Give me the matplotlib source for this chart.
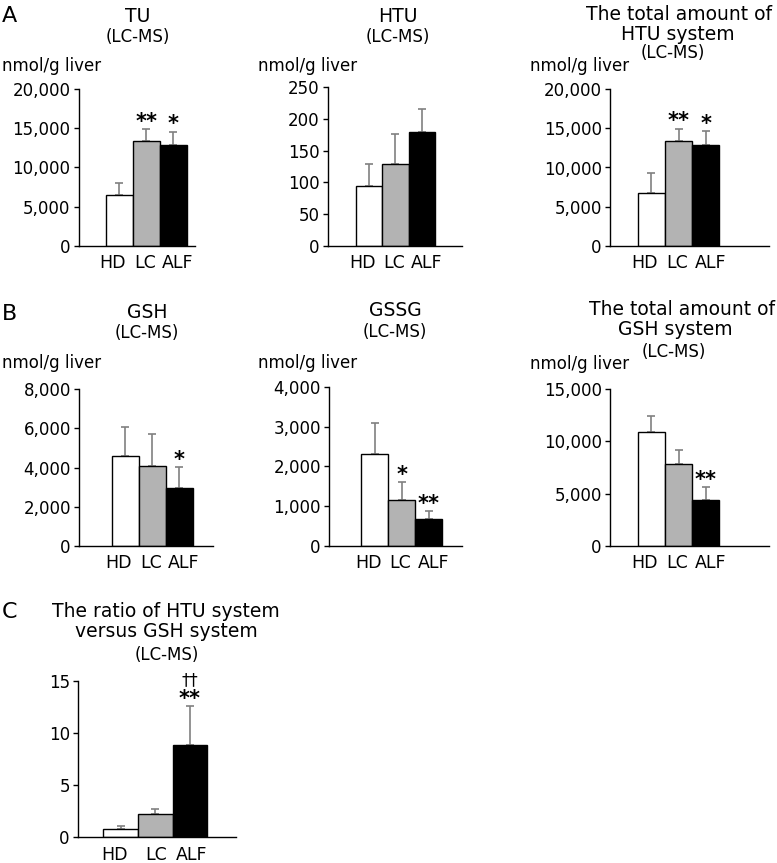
import matplotlib
matplotlib.use("Agg")
import matplotlib.pyplot as plt
from matplotlib.ticker import FuncFormatter

groups = ["HD", "LC", "ALF"]

# values (mean, upper SD)
tu_mean = [6500, 13300, 12800]
tu_sd = [1550, 1600, 1750]
tu_sig = ["", "**", "*"]

htu_mean = [95, 129, 180]
htu_sd = [34, 47, 35]
htu_sig = ["", "", ""]

htu_total_mean = [6700, 13400, 12900]
htu_total_sd = [2600, 1550, 1750]
htu_total_sig = ["", "**", "*"]

gsh_mean = [4600, 4080, 2970]
gsh_sd = [1490, 1620, 1060]
gsh_sig = ["", "", "*"]

gssg_mean = [2320, 1150, 680]
gssg_sd = [770, 450, 190]
gssg_sig = ["", "*", "**"]

gsh_total_mean = [10900, 7840, 4350]
gsh_total_sd = [1560, 1310, 1280]
gsh_total_sig = ["", "", "**"]

ratio_mean = [0.8, 2.24, 8.8]
ratio_sd = [0.26, 0.45, 3.77]
ratio_sig = ["", "", "**"]
ratio_sig2 = ["", "", "††"]

tu_ticks = [0, 5000, 10000, 15000, 20000]
htu_ticks = [0, 50, 100, 150, 200, 250]
gsh_ticks = [0, 2000, 4000, 6000, 8000]
gssg_ticks = [0, 1000, 2000, 3000, 4000]
gsh_total_ticks = [0, 5000, 10000, 15000]
ratio_ticks = [0, 5, 10, 15]

bar_colors = ["white", "#b3b3b3", "black"]
W, H = 777, 863
plt.rcParams["font.family"] = "DejaVu Sans"
fig = plt.figure(figsize=(W / 100, H / 100), dpi=100)

# horizontal nudges (pt) of the group labels; in the original they sit like one line of text
NUDGE_AB = [-4.7, -1.1, 3.2]
NUDGE_C = [-4.7, 0.4, 1.4]


def add_panel(box, xlim, yticks, mean, sd, sig, sig2=None, nudge=NUDGE_AB):
    x0, x1, ytop, ybot = box
    ax = fig.add_axes([x0 / W, 1 - ybot / H, (x1 - x0) / W, (ybot - ytop) / H])
    xs = list(range(len(groups)))
    ax.errorbar(xs, mean, yerr=[[0] * len(sd), sd], fmt="none", ecolor="#808080",
                elinewidth=1.2, capsize=2.6, capthick=1.2, zorder=1)
    ax.bar(xs, mean, width=1.0, color=bar_colors, edgecolor="black",
           linewidth=1.0, zorder=2)
    for i, s in enumerate(sig):
        if s:
            ax.annotate(s, xy=(i, mean[i] + sd[i]), xytext=(0, 1),
                        textcoords="offset points", ha="center", va="baseline",
                        fontsize=15, fontweight="bold")
    if sig2:
        for i, s in enumerate(sig2):
            if s:
                ax.annotate(s, xy=(i, mean[i] + sd[i]), xytext=(0, 15),
                            textcoords="offset points", ha="center", va="baseline",
                            fontsize=12)
    # group names under the bars
    for i, (g, dx) in enumerate(zip(groups, nudge)):
        ax.annotate(g, xy=(i, 0), xycoords=ax.get_xaxis_transform(),
                    xytext=(dx, -6.2), textcoords="offset points",
                    ha="center", va="top", fontsize=12.5)
    ax.set_xlim(*xlim)
    ax.set_ylim(yticks[0], yticks[-1])
    ax.set_yticks(yticks)
    ax.yaxis.set_major_formatter(FuncFormatter(lambda v, p: f"{v:,.0f}"))
    ax.set_xticks([])
    for side in ("top", "right"):
        ax.spines[side].set_visible(False)
    for side in ("left", "bottom"):
        ax.spines[side].set_linewidth(1.0)
    ax.tick_params(axis="y", length=3.6, width=1, pad=2.5, labelsize=12)
    return ax


def label(x, y, s, size=13.5, ha="center"):
    fig.text(x / W, 1 - y / H, s, ha=ha, va="baseline", fontsize=size)


# row A
add_panel((79, 195, 89, 245.7), (-1.5, 2.8), tu_ticks, tu_mean, tu_sd, tu_sig)
add_panel((328.3, 462, 87.3, 245.7), (-1.54, 3.52), htu_ticks, htu_mean, htu_sd, htu_sig)
add_panel((610.3, 769, 89.3, 245.7), (-1.51, 4.33), tu_ticks,
          htu_total_mean, htu_total_sd, htu_total_sig)

label(2, 21.7, "A", size=16, ha="left")
label(138, 21.7, "TU")
label(138, 41.7, "(LC-MS)", size=12)
label(2, 71, "nmol/g liver", size=12, ha="left")
label(398, 21.7, "HTU")
label(398, 41.7, "(LC-MS)", size=12)
label(258, 71, "nmol/g liver", size=12, ha="left")
label(679, 20, "The total amount of")
label(678, 40, "HTU system")
label(673, 58.3, "(LC-MS)", size=12)
label(530, 71, "nmol/g liver", size=12, ha="left")

# row B
add_panel((79.3, 213, 389.3, 545.7), (-1.7, 3.25), gsh_ticks, gsh_mean, gsh_sd, gsh_sig)
add_panel((329.3, 462.3, 387, 545.7), (-1.685, 3.24), gssg_ticks, gssg_mean, gssg_sd, gssg_sig)
add_panel((610.3, 769, 389.3, 545.7), (-1.51, 4.33), gsh_total_ticks,
          gsh_total_mean, gsh_total_sd, gsh_total_sig)

label(2, 320, "B", size=16, ha="left")
label(147, 318, "GSH")
label(147, 338, "(LC-MS)", size=12)
label(2, 368, "nmol/g liver", size=12, ha="left")
label(395, 316, "GSSG")
label(395, 337, "(LC-MS)", size=12)
label(258, 368, "nmol/g liver", size=12, ha="left")
label(682, 315, "The total amount of")
label(675, 335, "GSH system")
label(674, 357, "(LC-MS)", size=12)
label(530, 369, "nmol/g liver", size=12, ha="left")

# row C
add_panel((78.3, 235.7, 680.7, 837), (-1.22, 3.32), ratio_ticks,
          ratio_mean, ratio_sd, ratio_sig, ratio_sig2, nudge=NUDGE_C)
label(2, 618, "C", size=16, ha="left")
label(166, 616.7, "The ratio of HTU system")
label(166, 636.7, "versus GSH system")
label(167, 660, "(LC-MS)", size=12)

fig.savefig("out.png", dpi=100)
